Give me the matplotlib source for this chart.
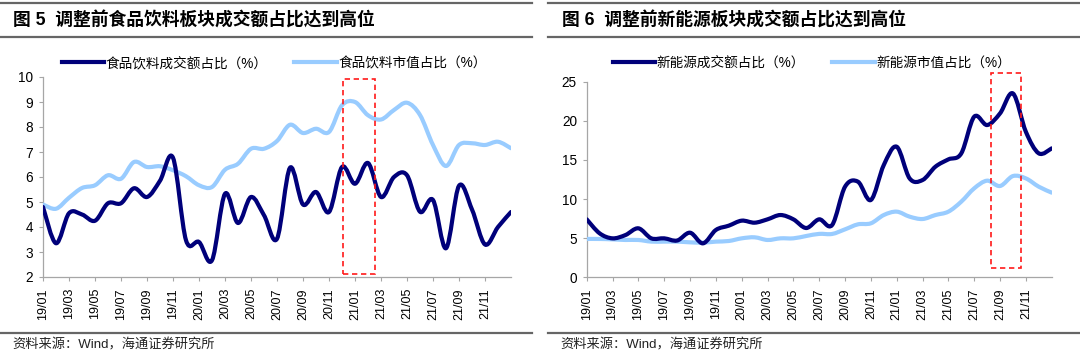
import matplotlib
matplotlib.use("Agg")
import matplotlib.pyplot as plt
import numpy as np
from matplotlib.path import Path
from matplotlib.patches import PathPatch, Rectangle
from matplotlib.lines import Line2D

plt.rcParams['font.family'] = ['Liberation Sans', 'Noto Sans CJK SC']

# ---------------- data ----------------
months = [f"{y}/{m:02d}" for y in (19, 20, 21) for m in range(1, 13)] + ["22/01"]
tick_labels = [m for i, m in enumerate(months[:-1]) if i % 2 == 0]

food_turnover = [4.8, 3.35, 4.55, 4.5, 4.25, 4.95, 4.95, 5.55, 5.2, 5.85,
                 6.77, 3.47, 3.4, 2.67, 5.33, 4.16, 5.2, 4.47, 3.53, 6.37,
                 4.9, 5.4, 4.6, 6.4, 5.73, 6.56, 5.2, 6.0, 6.07, 4.61,
                 5.08, 3.15, 5.65, 4.7, 3.3, 4.0, 4.6]
food_mktcap = [4.9, 4.73, 5.17, 5.56, 5.67, 6.07, 5.93, 6.6, 6.4, 6.43,
               6.27, 6.03, 5.67, 5.6, 6.29, 6.53, 7.13, 7.13, 7.44, 8.09,
               7.76, 7.93, 7.8, 8.87, 9.0, 8.47, 8.3, 8.68, 8.97, 8.48,
               7.28, 6.44, 7.28, 7.35, 7.28, 7.41, 7.15]
ne_turnover = [7.41, 5.62, 4.98, 5.4, 6.26, 4.98, 4.98, 4.7, 5.7, 4.34,
               6.05, 6.6, 7.24, 6.98, 7.41, 7.96, 7.41, 6.3, 7.41, 6.68,
               11.58, 12.22, 9.88, 14.35, 16.69, 12.64, 12.43, 14.14, 15.07, 15.84,
               20.53, 19.46, 20.95, 23.5, 18.6, 15.84, 16.48]
ne_mktcap = [4.9, 4.9, 4.85, 4.77, 4.77, 4.56, 4.56, 4.56, 4.47, 4.43,
             4.56, 4.64, 4.98, 5.11, 4.77, 4.98, 4.98, 5.28, 5.55, 5.54,
             6.13, 6.77, 6.9, 7.96, 8.39, 7.75, 7.45, 7.96, 8.39, 9.67,
             11.37, 12.35, 11.67, 12.94, 12.64, 11.58, 10.82]

# highlight boxes (x0, x1, y0, y1) in data units
box_food = (23.1, 25.5, 2.12, 9.92)
box_ne = (31.3, 33.6, 1.23, 26.05)

DARK = '#00007a'
LIGHT = '#99ccff'
AXCOL = '#a6a6a6'


def smooth_path(x, y):
    pts = np.column_stack([x, y]).astype(float)
    ext = np.vstack([pts[0], pts, pts[-1]])
    verts = [pts[0]]
    codes = [Path.MOVETO]
    for i in range(len(pts) - 1):
        p0, p1, p2, p3 = ext[i], ext[i + 1], ext[i + 2], ext[i + 3]
        c1 = p1 + (p2 - p0) / 6.0
        c2 = p2 - (p3 - p1) / 6.0
        verts += [c1, c2, p2]
        codes += [Path.CURVE4] * 3
    return Path(verts, codes)


def draw_series(ax, vals, color):
    x = np.arange(len(vals))
    ax.add_patch(PathPatch(smooth_path(x, vals), fill=False, edgecolor=color,
                           lw=3.0, capstyle='round', joinstyle='round', zorder=3))


def style_axes(ax, ylo, yhi, ystep):
    ax.set_xlim(0, len(months) - 1)
    ax.set_ylim(ylo, yhi)
    ax.set_yticks(np.arange(ylo, yhi + 0.01, ystep))
    ax.set_xticks(np.arange(0, len(months) - 1, 2))
    ax.set_xticklabels(tick_labels, rotation=90, fontsize=9)
    ax.tick_params(axis='y', labelsize=9.8, length=3, width=0.8, color=AXCOL, pad=4)
    ax.tick_params(axis='x', length=3, width=0.8, color=AXCOL, pad=5)
    for s in ('top', 'right'):
        ax.spines[s].set_visible(False)
    for s in ('left', 'bottom'):
        ax.spines[s].set_color(AXCOL)
        ax.spines[s].set_linewidth(0.9)


fig = plt.figure(figsize=(10.8, 3.58), dpi=100)
W, H = 1080.0, 358.0

ax1 = fig.add_axes([43 / W, 1 - 277 / H, 468 / W, 200 / H])
ax2 = fig.add_axes([586.7 / W, 1 - 277.3 / H, 465 / W, 195.6 / H])

draw_series(ax1, food_mktcap, LIGHT)
draw_series(ax1, food_turnover, DARK)
style_axes(ax1, 2, 10, 1)

draw_series(ax2, ne_mktcap, LIGHT)
draw_series(ax2, ne_turnover, DARK)
style_axes(ax2, 0, 25, 5)

for ax, b in ((ax1, box_food), (ax2, box_ne)):
    ax.add_patch(Rectangle((b[0], b[2]), b[1] - b[0], b[3] - b[2], fill=False,
                           edgecolor='#ff1a1a', lw=1.2, linestyle=(0, (3.2, 2.2)),
                           clip_on=False, zorder=4))

# legends
def add_legend(ax, labels, cx):
    handles = [Line2D([], [], color=DARK, lw=3.0), Line2D([], [], color=LIGHT, lw=3.0)]
    ax.legend(handles, labels, loc='center', bbox_to_anchor=(cx / W, 1 - 63 / H),
              bbox_transform=fig.transFigure, ncol=2, frameon=False,
              fontsize=9.8, handlelength=3.1, handletextpad=0.1, columnspacing=2.0,
              borderaxespad=0, borderpad=0)

add_legend(ax1, ['食品饮料成交额占比（%）', '食品饮料市值占比（%）'], 274)
add_legend(ax2, ['新能源成交额占比（%）', '新能源市值占比（%）'], 812)

# titles and rules
fig.text(13 / W, 1 - 21 / H, '图 5  调整前食品饮料板块成交额占比达到高位', fontsize=12.8,
         fontweight='bold', va='center', ha='left')
fig.text(562 / W, 1 - 21 / H, '图 6  调整前新能源板块成交额占比达到高位', fontsize=12.8,
         fontweight='bold', va='center', ha='left')

for (x0, x1) in ((0, 532), (548, 1080)):
    for yy, lw in ((3, 1.6), (37, 1.6), (333, 1.6)):
        fig.add_artist(Line2D([x0 / W, x1 / W], [1 - yy / H, 1 - yy / H],
                              transform=fig.transFigure, color='#666666', lw=lw))

fig.text(12 / W, 1 - 345 / H, '资料来源：Wind，海通证券研究所', fontsize=9.5,
         va='center', ha='left', color='#222222')
fig.text(560 / W, 1 - 345 / H, '资料来源：Wind，海通证券研究所', fontsize=9.5,
         va='center', ha='left', color='#222222')

fig.savefig('out.png', dpi=100)
